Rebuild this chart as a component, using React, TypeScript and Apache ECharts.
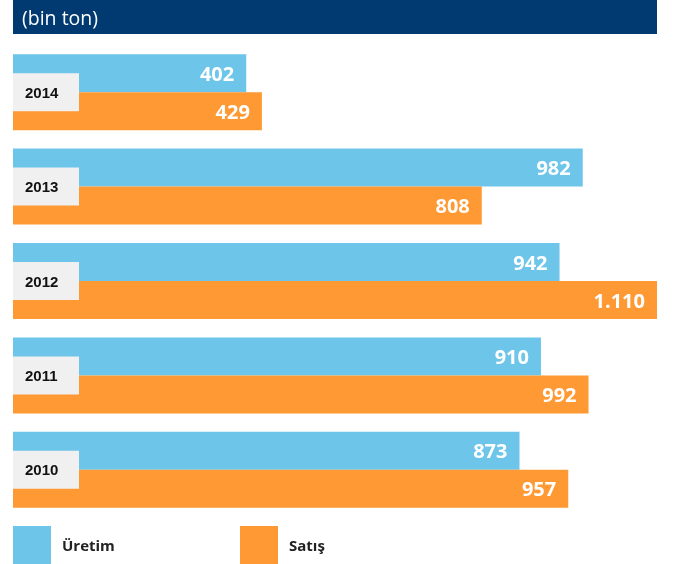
import React, { useEffect, useRef } from "react";
import * as echarts from "echarts";

const years = ["2014", "2013", "2012", "2011", "2010"];
const uretim = [402, 982, 942, 910, 873];
const satis = [429, 808, 1110, 992, 957];
const seriesNames = ["Üretim", "Satış"];
const unitLabel = "(bin ton)";

const fmt = (v: number) => String(v).replace(/\B(?=(\d{3})+(?!\d))/g, ".");

export default function App() {
  const ref = useRef<HTMLDivElement>(null);
  useEffect(() => {
    const chart = echarts.init(ref.current!, null, { renderer: "svg" });
    const valueLabel = {
      show: true,
      position: "insideRight",
      distance: 12,
      color: "#ffffff",
      fontFamily: "Open Sans",
      fontWeight: "bold",
      fontSize: 20,
      formatter: (p: any) => fmt(p.value),
    };
    const legendBase = {
      top: 526,
      padding: 0,
      itemWidth: 38,
      itemHeight: 38,
      icon: "rect",
      selectedMode: false,
      textStyle: {
        color: "#222222",
        fontFamily: "Open Sans",
        fontWeight: "bold",
        fontSize: 15,
        padding: [0, 0, 0, 6],
      },
    };
    chart.setOption({
      animation: false,
      graphic: [
        {
          type: "rect",
          shape: { x: 13, y: 0, width: 644, height: 34 },
          style: { fill: "#003a70" },
        },
        {
          type: "text",
          x: 22,
          y: 17,
          style: {
            text: unitLabel,
            fill: "#ffffff",
            fontFamily: "Open Sans",
            fontSize: 19.5,
            verticalAlign: "middle",
          },
        },
      ],
      grid: { left: 13, right: 18, top: 45, bottom: 47, containLabel: false },
      xAxis: {
        type: "value",
        min: 0,
        max: 1110,
        show: false,
      },
      yAxis: {
        type: "category",
        data: years,
        inverse: true,
        z: 10,
        axisLine: { show: false },
        axisTick: { show: false },
        axisLabel: {
          inside: true,
          margin: 0,
          align: "left",
          verticalAlign: "middle",
          backgroundColor: "#f0f0f0",
          width: 54,
          height: 38,
          lineHeight: 38,
          padding: [0, 0, 0, 12],
          color: "#111111",
          fontFamily: "Liberation Sans",
          fontWeight: "bold",
          fontSize: 15,
        },
      },
      legend: [
        { ...legendBase, left: 13, data: [seriesNames[0]] },
        { ...legendBase, left: 240, data: [seriesNames[1]] },
      ],
      series: [
        {
          name: seriesNames[0],
          type: "bar",
          data: uretim,
          barWidth: 38,
          barGap: "0%",
          itemStyle: { color: "#6dc5ea" },
          label: valueLabel,
        },
        {
          name: seriesNames[1],
          type: "bar",
          data: satis,
          barWidth: 38,
          barGap: "0%",
          itemStyle: { color: "#ff9933" },
          label: valueLabel,
        },
      ],
    });
    return () => chart.dispose();
  }, []);
  return (
    <div
      ref={ref}
      style={{ position: "fixed", left: 0, top: 0, width: 675, height: 564 }}
    />
  );
}
